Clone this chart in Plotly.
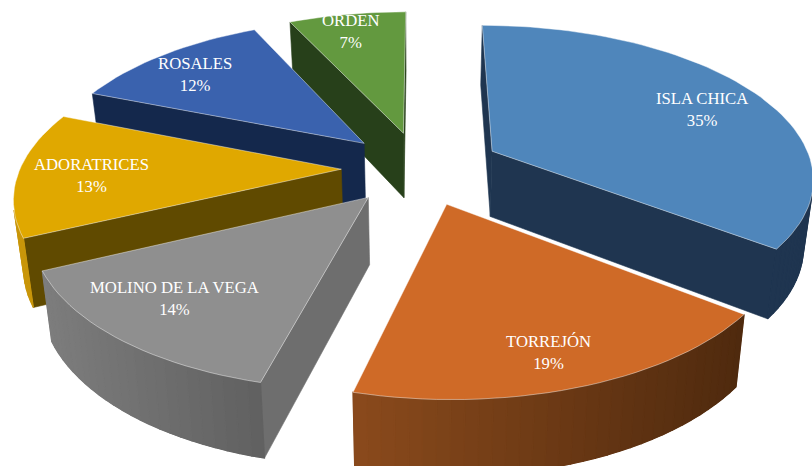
import math
import plotly.graph_objects as go

# Data
categories = ["ISLA CHICA", "TORREJÓN", "MOLINO DE LA VEGA", "ADORATRICES", "ROSALES", "ORDEN"]
values = [35.4, 18.6, 14, 13, 12, 7]

# Styles
top_colors = ["#4f86bb", "#cf6a27", "#8f8f8f", "#e0a800", "#3a62ae", "#63993f"]
wall_left = ["#1f3550", "#8a4a1c", "#7d7d7d", "#c9960a", "#14284c", "#27401a"]
wall_right = ["#1f3550", "#4f2a0e", "#606060", "#c9960a", "#14284c", "#27401a"]
radial_colors = ["#1f3550", "#5a2f10", "#6e6e6e", "#604a00", "#14284c", "#27401a"]
draw_order = [5, 4, 3, 2, 0, 1]
label_r = [0.77, 0.83, 0.77, 0.77, 0.795, 0.843]
label_a = [0.525, 0.518, 0.55, 0.47, 0.45, 0.46]
pulls = [0.255, 0.245, 0.245, 0.245, 0.245, 0.245]

# Projection of the exploded, tilted pie
W, H = 812, 466
CX, CY, AX, BY, K = 420, 168, 321, 151, 0.16
DEPTH, SHRINK = 66, 0.025
STEP = 2.0


def project(x, y, bottom=False):
    f = 1 + K * y
    sx = AX * x / f
    sy = -BY * y / f
    if bottom:
        return CX + sx * (1 - SHRINK), CY + sy * (1 - SHRINK) + DEPTH / f
    return CX + sx, CY + sy


def area(pts):
    return sum(pts[i][0] * pts[(i + 1) % len(pts)][1] - pts[(i + 1) % len(pts)][0] * pts[i][1]
               for i in range(len(pts)))


def mix(c1, c2, t):
    a = [int(c1[i:i + 2], 16) for i in (1, 3, 5)]
    b = [int(c2[i:i + 2], 16) for i in (1, 3, 5)]
    return "rgb(%d,%d,%d)" % tuple(round(a[i] + (b[i] - a[i]) * t) for i in range(3))


fig = go.Figure()


def poly(pts, fill, line=None, width=0.6):
    fig.add_trace(go.Scatter(
        x=[p[0] for p in pts] + [pts[0][0]],
        y=[p[1] for p in pts] + [pts[0][1]],
        mode="lines", fill="toself", fillcolor=fill,
        line=dict(color=line or fill, width=width),
        hoverinfo="skip", showlegend=False))


total = sum(values)
starts = []
acc = 0.0
for v in values:
    starts.append(acc)
    acc += 360.0 * v / total

annotations = []
for idx in draw_order:
    a0 = starts[idx]
    a1 = a0 + 360.0 * values[idx] / total
    mid = math.radians((a0 + a1) / 2)
    ox, oy = pulls[idx] * math.sin(mid), pulls[idx] * math.cos(mid)
    n = max(2, int((a1 - a0) / STEP))
    angles = [a0 + (a1 - a0) * i / n for i in range(n + 1)]
    rim = [(ox + math.sin(math.radians(t)), oy + math.cos(math.radians(t))) for t in angles]
    top = [project(*p) for p in rim]
    bot = [project(*p, bottom=True) for p in rim]
    apex, apex_b = project(ox, oy), project(ox, oy, bottom=True)

    # radial walls
    q = [top[0], apex, apex_b, bot[0]]
    if area(q) > 0:
        poly(q, radial_colors[idx])
    q = [apex, top[-1], bot[-1], apex_b]
    if area(q) > 0:
        poly(q, radial_colors[idx])

    # outer wall: one underlay, then a gradient from left to right across the screen
    xs = [p[0] for p in top]
    lo, hi = min(xs), max(xs)
    vis = [i for i in range(n) if area([top[i], top[i + 1], bot[i + 1], bot[i]]) < 0]
    if vis:
        run = list(range(vis[0], vis[-1] + 2))
        poly([top[i] for i in run] + [bot[i] for i in reversed(run)],
             mix(wall_left[idx], wall_right[idx], 0.5), None, 0.4)
    for i in vis:
        q = [top[i], top[i + 1], bot[i + 1], bot[i]]
        t = ((top[i][0] + top[i + 1][0]) / 2 - lo) / max(hi - lo, 1)
        poly(q, mix(wall_left[idx], wall_right[idx], t), None, 1.2)

    # top face
    poly([apex] + top, top_colors[idx], "rgba(255,255,255,0.55)", 0.8)

    # label
    t = math.radians(a0 + (a1 - a0) * label_a[idx])
    lx, ly = project(ox + label_r[idx] * math.sin(t), oy + label_r[idx] * math.cos(t))
    annotations.append(dict(
        x=lx, y=ly, xref="x", yref="y", showarrow=False, align="center",
        text="%s<br>%d%%" % (categories[idx], round(values[idx])),
        font=dict(family="Liberation Serif", size=16.7, color="white")))

fig.update_layout(
    width=W, height=H, margin=dict(l=0, r=0, t=0, b=0),
    paper_bgcolor="white", plot_bgcolor="white", showlegend=False,
    annotations=annotations,
    xaxis=dict(range=[0, W], visible=False, fixedrange=True),
    yaxis=dict(range=[H, 0], visible=False, fixedrange=True))
fig.write_html("out.html", config={"displayModeBar": False},
               post_script="document.body.style.margin='0';document.body.style.overflow='hidden';")
